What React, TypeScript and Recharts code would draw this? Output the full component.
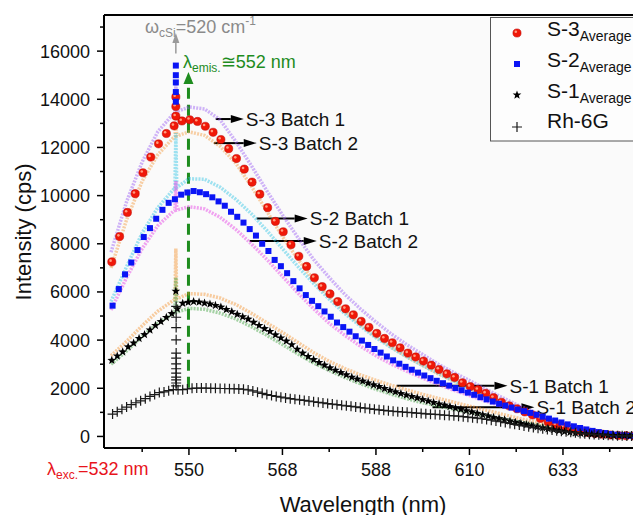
import React from 'react';
import { ScatterChart, Scatter, XAxis, YAxis, CartesianGrid, ReferenceLine } from 'recharts';

// x axis is linear in Raman shift (cm-1 from the 532 nm line), labelled in nm
const majorShift = [600, 1200, 1800, 2400, 3000];
const majorLabels = ['550', '568', '588', '610', '633'];
const minorShift = [300, 900, 1500, 2100, 2700, 3300];
const yMajor = [0, 2000, 4000, 6000, 8000, 10000, 12000, 14000, 16000];
const yMinor = [1000, 3000, 5000, 7000, 9000, 11000, 13000, 15000, 17000];

// batch spectra (lines), sampled on this shift grid; 516 is the c-Si line
const batchShift = [100, 200, 300, 400, 500, 510, 516, 522, 600, 700, 800, 900, 1000, 1100, 1200, 1300, 1400, 1500, 1600, 1700, 1800, 1900, 2000, 2100, 2200, 2300, 2400, 2500, 2600, 2700, 2800, 2900, 3000, 3100, 3200, 3300, 3400, 3450];
const s3Batch1 = [7650, 9750, 11400, 12650, 13400, 13450, 14600, 13480, 13680, 13600, 13150, 12250, 11250, 10200, 9200, 8250, 7350, 6600, 5900, 5300, 4750, 4250, 3800, 3400, 3000, 2650, 2320, 1980, 1650, 1330, 1050, 800, 580, 400, 260, 150, 80, 60];
const s3Batch2 = [7000, 9000, 10600, 11700, 12400, 12450, 13000, 12470, 12650, 12500, 12050, 11350, 10400, 9350, 8300, 7350, 6500, 5800, 5200, 4650, 4150, 3700, 3300, 2950, 2600, 2300, 2000, 1700, 1420, 1160, 920, 700, 510, 350, 220, 130, 70, 50];
const s2Batch1 = [5600, 7050, 8450, 9500, 10250, 10300, 12600, 10330, 10700, 10680, 10350, 9850, 9250, 8550, 7800, 7050, 6350, 5700, 5100, 4580, 4100, 3680, 3300, 2950, 2620, 2300, 2000, 1720, 1450, 1200, 960, 740, 550, 380, 240, 140, 70, 50];
const s2Batch2 = [5250, 6600, 7800, 8750, 9350, 9380, 10600, 9400, 9540, 9450, 9100, 8600, 8000, 7350, 6650, 5950, 5300, 4700, 4200, 3750, 3350, 3000, 2700, 2420, 2160, 1920, 1700, 1480, 1270, 1080, 900, 720, 550, 390, 250, 150, 80, 50];
const s1Batch1 = [3350, 3950, 4600, 5200, 5650, 5690, 7800, 5710, 5930, 5900, 5750, 5480, 5120, 4720, 4320, 3900, 3480, 3120, 2820, 2560, 2330, 2120, 1930, 1750, 1580, 1420, 1260, 1100, 940, 780, 630, 490, 360, 250, 160, 100, 50, 40];
const s1Batch2 = [3000, 3550, 4150, 4700, 5100, 5140, 6600, 5160, 5320, 5280, 5120, 4880, 4560, 4200, 3820, 3420, 3050, 2740, 2450, 2190, 1960, 1750, 1560, 1400, 1260, 1130, 1000, 870, 750, 630, 510, 400, 300, 210, 140, 80, 40, 30];

// averages: S-3 every 50 cm-1 from 105
const s3Avg = [
  7250, 8300, 9300, 10080, 10950, 11600, 12150, 12580, 12900, 13100,
  13150, 13080, 12880, 12630, 12330, 11950, 11540, 11100, 10560, 10060,
  9500, 8930, 8500, 7960, 7480, 7060, 6590, 6220, 5920, 5600,
  5300, 5050, 4780, 4530, 4280, 4070, 3890, 3680, 3460, 3300,
  3130, 2960, 2780, 2600, 2450, 2230, 2070, 1940, 1790, 1610,
  1420, 1270, 1150, 1020, 890, 750, 600, 480, 390, 310,
  240, 170, 120, 90, 60, 40, 30, 20,
];
// S-2 every 40 cm-1 from 110
const s2Avg = [
  5430, 6120, 6730, 7220, 7740, 8280, 8650, 9040, 9410, 9700,
  9850, 10040, 10130, 10190, 10140, 10060, 9930, 9760, 9580, 9330,
  9120, 8880, 8610, 8340, 8000, 7700, 7330, 7070, 6780, 6450,
  6150, 5870, 5630, 5410, 5190, 4970, 4730, 4540, 4350, 4160,
  3980, 3800, 3630, 3480, 3320, 3160, 3020, 2890, 2770, 2650,
  2530, 2420, 2310, 2210, 2110, 2010, 1920, 1820, 1730, 1630,
  1540, 1450, 1360, 1280, 1200, 1120, 1050, 980, 900, 820,
  740, 660, 580, 500, 420, 350, 290, 230, 180, 140,
  100, 70, 50, 30, 20,
];
// S-1 every 35 cm-1 from 105
const s1Avg = [
  3160, 3340, 3510, 3720, 3880, 4070, 4230, 4420, 4610, 4770,
  4940, 5100, 5300, 5530, 5570, 5600, 5580, 5540, 5500, 5440,
  5370, 5270, 5180, 5070, 4970, 4870, 4740, 4610, 4480, 4360,
  4220, 4090, 3960, 3810, 3620, 3460, 3320, 3190, 3070, 2960,
  2850, 2750, 2650, 2560, 2460, 2380, 2300, 2220, 2140, 2070,
  1990, 1920, 1850, 1780, 1720, 1660, 1600, 1530, 1470, 1410,
  1350, 1300, 1240, 1180, 1130, 1070, 1020, 960, 900, 850,
  790, 740, 690, 640, 590, 540, 490, 440, 400, 360,
  320, 280, 240, 200, 170, 140, 120, 100, 85, 70,
  60, 50, 40, 35, 30, 25, 20,
];
// Rh-6G every 30 cm-1 from 110
const rh6g = [
  930, 1030, 1130, 1220, 1320, 1400, 1480, 1570, 1660, 1740,
  1820, 1850, 1900, 1950, 1940, 1940, 1970, 2000, 2010, 2010,
  2010, 2000, 2000, 1990, 1990, 1980, 1980, 1975, 1960, 1930,
  1890, 1840, 1790, 1740, 1700, 1660, 1630, 1600, 1570, 1545,
  1520, 1495, 1470, 1440, 1415, 1390, 1365, 1345, 1320, 1295,
  1270, 1250, 1225, 1200, 1175, 1150, 1125, 1105, 1085, 1065,
  1045, 1030, 1015, 1000, 985, 970, 955, 940, 925, 915,
  900, 885, 870, 855, 840, 820, 800, 780, 760, 735,
  705, 675, 640, 610, 575, 540, 505, 470, 435, 400,
  370, 340, 315, 290, 265, 240, 215, 195, 175, 155,
  125, 110, 95, 80, 70, 60, 45, 35, 30, 25,
  20, 20, 15,
];
// c-Si spike readings at 516 cm-1
const siShift = 516;
const s3Spike = [13300, 13700, 14100];
const s2Spike = [13900, 14300, 14700, 15000, 15400];
const s1Spike = [6030];
const rhSpike = [2100, 2220, 2350, 2460, 2630, 2810, 3010, 3250, 3460, 4010, 4520, 4950, 5400];

const notes = [
  { text: 'S-3 Batch 1', from: 772, to: 952, at: 13180 },
  { text: 'S-3 Batch 2', from: 760, to: 1035, at: 12180 },
  { text: 'S-2 Batch 1', from: 1035, to: 1362, at: 9050 },
  { text: 'S-2 Batch 2', from: 990, to: 1420, at: 8120 },
  { text: 'S-1 Batch 1', from: 1933, to: 2644, at: 2100 },
  { text: 'S-1 Batch 2', from: 2163, to: 2817, at: 1210 },
];

const grid = (start: number, step: number, vals: number[]) => vals.map((y, i) => ({ x: start + step * i, y }));
const pairs = (xs: number[], ys: number[]) => xs.map((x, i) => ({ x, y: ys[i] }));
const column = (x: number, ys: number[]) => ys.map((y) => ({ x, y }));

const FONT = 'Arial, "Liberation Sans", sans-serif';

const Ball = ({ cx, cy }: any) => (
  <g>
    <circle cx={cx} cy={cy} r={4.1} fill="#f01808" stroke="#b80000" strokeWidth={0.5} />
    <circle cx={cx - 1.2} cy={cy - 1.2} r={1.3} fill="#ff9c80" />
  </g>
);
const Square = ({ cx, cy }: any) => <rect x={cx - 3} y={cy - 3} width={6} height={6} fill="#0a14f5" />;
const starPath = (cx: number, cy: number, R: number, r: number) => {
  let d = '';
  for (let k = 0; k < 10; k++) {
    const a = -Math.PI / 2 + (k * Math.PI) / 5;
    const rad = k % 2 === 0 ? R : r;
    d += (k ? 'L' : 'M') + (cx + rad * Math.cos(a)).toFixed(2) + ',' + (cy + rad * Math.sin(a)).toFixed(2);
  }
  return d + 'Z';
};
const Star = ({ cx, cy }: any) => <path d={starPath(cx, cy, 4.6, 1.9)} fill="#000" />;
const Cross = ({ cx, cy }: any) => (
  <path d={`M${cx - 5},${cy}H${cx + 5}M${cx},${cy - 5}V${cy + 5}`} stroke="#1a1a1a" strokeWidth={1.2} />
);
const None = () => <g />;

const Arrow = ({ x1, y1, x2, y2, color = '#000', width = 2, head = 13, half = 4, dash, text }: any) => {
  const dx = x2 - x1;
  const dy = y2 - y1;
  const len = Math.hypot(dx, dy) || 1;
  const ux = dx / len;
  const uy = dy / len;
  const bx = x2 - ux * head;
  const by = y2 - uy * head;
  return (
    <g>
      <line x1={x1} y1={y1} x2={bx} y2={by} stroke={color} strokeWidth={width} strokeDasharray={dash} />
      <polygon points={`${x2},${y2} ${bx - uy * half},${by + ux * half} ${bx + uy * half},${by - ux * half}`} fill={color} />
      {text && (
        <text x={x2 + 2} y={y2} dy={7} fontSize={19} fill="#111" fontFamily={FONT}>
          {text}
        </text>
      )}
    </g>
  );
};

const XTick = ({ x, y, payload }: any) => {
  const i = majorShift.indexOf(payload.value);
  const top = y - 15;
  return (
    <g>
      <line x1={x} x2={x} y1={top} y2={top + (i >= 0 ? 7 : 4)} stroke="#000" strokeWidth={1.5} />
      {i >= 0 && (
        <text x={x} y={top + 28} textAnchor="middle" fontSize={18} fill="#111" fontFamily={FONT}>
          {majorLabels[i]}
        </text>
      )}
    </g>
  );
};

const YTick = ({ x, y, payload }: any) => {
  const i = yMajor.indexOf(payload.value);
  const right = x + 14;
  return (
    <g>
      <line x1={right - (i >= 0 ? 7 : 4)} x2={right} y1={y} y2={y} stroke="#000" strokeWidth={1.5} />
      {i >= 0 && (
        <text x={x} y={y} dy={6.5} textAnchor="end" fontSize={18} fill="#111" fontFamily={FONT}>
          {yMajor[i]}
        </text>
      )}
    </g>
  );
};

const batches = [
  { data: s3Batch1, color: '#9a5cf5' },
  { data: s3Batch2, color: '#f59a3c' },
  { data: s2Batch1, color: '#2cc4e4' },
  { data: s2Batch2, color: '#e438e4' },
  { data: s1Batch1, color: '#f5922e' },
  { data: s1Batch2, color: '#3ca03c' },
];

export default function App() {
  return (
    <div style={{ position: 'absolute', left: 0, top: 0, width: 633, height: 515, overflow: 'hidden', background: '#fff', fontFamily: FONT }}>
      <ScatterChart width={660} height={515} margin={{ top: 15, right: 16, bottom: 27, left: 0 }}>
        <CartesianGrid horizontal={false} vertical={false} fill="#fafafa" />
        <XAxis
          type="number"
          dataKey="x"
          domain={[55, 3520]}
          allowDataOverflow
          ticks={[...minorShift, ...majorShift].sort((a, b) => a - b)}
          interval={0}
          height={40}
          tickSize={7}
          tickMargin={8}
          tickLine={false}
          axisLine={{ stroke: '#000', strokeWidth: 2 }}
          tick={(p: any) => <XTick {...p} />}
        />
        <YAxis
          type="number"
          dataKey="y"
          domain={[-480, 17500]}
          allowDataOverflow
          ticks={[...yMajor, ...yMinor].sort((a, b) => a - b)}
          interval={0}
          width={104}
          tickSize={7}
          tickMargin={7}
          tickLine={false}
          axisLine={{ stroke: '#000', strokeWidth: 2 }}
          tick={(p: any) => <YTick {...p} />}
        />
        <ReferenceLine y={17500} stroke="#000" strokeWidth={2} ifOverflow="visible" />

        {batches.map((b, i) => (
          <Scatter
            key={i}
            data={pairs(batchShift, b.data)}
            shape={None}
            line={{ stroke: b.color, strokeWidth: 3.5, strokeOpacity: 0.45, strokeDasharray: '2 1.2' }}
            isAnimationActive={false}
          />
        ))}

        <Scatter data={grid(105, 50, s3Avg).concat(column(siShift, s3Spike))} shape={Ball} isAnimationActive={false} />
        <Scatter data={grid(110, 40, s2Avg).concat(column(siShift, s2Spike))} shape={Square} isAnimationActive={false} />
        <Scatter data={grid(105, 35, s1Avg).concat(column(siShift, s1Spike))} shape={Star} isAnimationActive={false} />
        <Scatter data={grid(110, 30, rh6g).concat(column(siShift + 2, rhSpike))} shape={Cross} isAnimationActive={false} />

        {notes.map((n) => (
          <ReferenceLine
            key={n.text}
            segment={[{ x: n.from, y: n.at }, { x: n.to, y: n.at }]}
            ifOverflow="visible"
            shape={(p: any) => <Arrow {...p} text={n.text} />}
          />
        ))}
        <ReferenceLine
          segment={[{ x: siShift, y: 15900 }, { x: siShift, y: 16750 }]}
          ifOverflow="visible"
          shape={(p: any) => <Arrow {...p} color="#9a9a9a" width={1.5} head={10} half={3.5} />}
        />
        <ReferenceLine
          segment={[{ x: 597, y: 2020 }, { x: 597, y: 15130 }]}
          ifOverflow="visible"
          shape={(p: any) => <Arrow {...p} color="#1e8c1e" width={3} head={12} half={5} dash="11 6" />}
        />
      </ScatterChart>

      <svg width={633} height={515} style={{ position: 'absolute', left: 0, top: 0, pointerEvents: 'none' }} fontFamily={FONT}>
        <text transform="translate(31,232) rotate(-90)" textAnchor="middle" fontSize={22} fill="#111">Intensity (cps)</text>
        <text x={363} y={512} textAnchor="middle" fontSize={22} fill="#111">Wavelength (nm)</text>

        <text x={47} y={475} fontSize={18} fill="#e8141c">
          λ<tspan fontSize={12} dy={4}>exc.</tspan><tspan dy={-4}>=532 nm</tspan>
        </text>
        <text x={145} y={33} fontSize={18} fill="#8a8a8a">
          ω<tspan fontSize={12} dy={4}>cSi</tspan><tspan dy={-4}>=520 cm</tspan><tspan fontSize={12} dy={-8}>-1</tspan>
        </text>
        <text x={183} y={68} fontSize={18} fill="#1e8c1e">
          λ<tspan fontSize={12} dy={4}>emis.</tspan><tspan dy={-4}>≅552 nm</tspan>
        </text>

        <rect x={490.5} y={17.5} width={200} height={123.5} fill="#fdfdfd" stroke="#555" strokeWidth={1} />
        <Ball cx={517} cy={33} />
        <text x={547} y={36} fontSize={21} fill="#111">S-3<tspan fontSize={14} dy={5}>Average</tspan></text>
        <Square cx={517} cy={64} />
        <text x={547} y={67} fontSize={21} fill="#111">S-2<tspan fontSize={14} dy={5}>Average</tspan></text>
        <Star cx={517} cy={95} />
        <text x={547} y={98} fontSize={21} fill="#111">S-1<tspan fontSize={14} dy={5}>Average</tspan></text>
        <Cross cx={517} cy={127} />
        <text x={547} y={128} fontSize={21} fill="#111">Rh-6G</text>
      </svg>
    </div>
  );
}
